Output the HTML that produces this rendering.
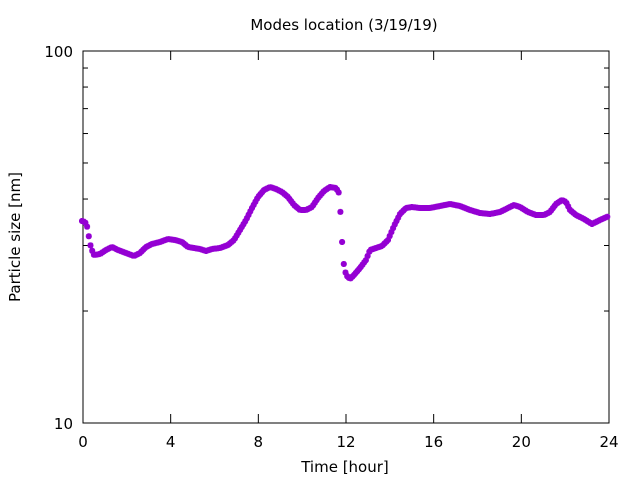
<!DOCTYPE html>
<html><head><style>body{margin:0;background:#fff}svg{display:block}text{font-family:"DejaVu Sans",sans-serif;font-size:15px;fill:#000}</style></head>
<body>
<svg id="s" width="640" height="480" xmlns="http://www.w3.org/2000/svg">
<rect x="83" y="51" width="526" height="372" fill="none" stroke="#000" stroke-width="1"/>
<text x="344" y="30" text-anchor="middle">Modes location (3/19/19)</text>
<text x="345" y="472" text-anchor="middle">Time [hour]</text>
<text transform="translate(20,237) rotate(-90)" text-anchor="middle">Particle size [nm]</text>
<text x="73" y="57" text-anchor="end">100</text>
<text x="73" y="429" text-anchor="end">10</text>
<g id="ticks" stroke="#000" stroke-width="1"></g>
<g id="xl"></g>
<g id="pts" stroke="#9400d3" stroke-width="2" fill="none"></g>
</svg>
<script>
var NS="http://www.w3.org/2000/svg",t=document.getElementById("ticks"),xl=document.getElementById("xl"),p=document.getElementById("pts");
function ln(x1,y1,x2,y2){var l=document.createElementNS(NS,"line");l.setAttribute("x1",x1);l.setAttribute("y1",y1);l.setAttribute("x2",x2);l.setAttribute("y2",y2);t.appendChild(l);}
for(var i=0;i<=6;i++){var x=83+i*526/6;ln(x,423,x,414);ln(x,51,x,60);var tx=document.createElementNS(NS,"text");tx.setAttribute("x",x);tx.setAttribute("y",447);tx.setAttribute("text-anchor","middle");tx.textContent=i*4;xl.appendChild(tx);}
for(var v=10;v<=100;v+=10){var y=423-372*Math.log10(v/10);var L=(v==10||v==100)?9:5;ln(83,y,83+L,y);ln(609,y,609-L,y);}
var k=[[82,221],[85,222],[87,226],[88,232],[91,248],[94,255],[100,254],[106,250],[112,247],[118,250],[126,253],[134,256],[140,253],[146,247],[152,244],[160,242],[168,239],[175,240],[182,242],[188,247],[194,248],[200,249],[206,251],[212,249],[220,248],[228,245],[234,240],[240,230],[246,220],[252,208],[258,197],[264,190],[270,187],[276,189],[282,192],[288,197],[294,205],[300,210],[306,210],[312,207],[318,198],[324,191],[330,187],[336,188],[339,193],[341,220],[343,260],[346,275],[350,279],[354,275],[360,268],[366,260],[370,250],[376,248],[382,246],[388,240],[394,226],[400,214],[406,208],[412,207],[420,208],[430,208],[440,206],[450,204],[460,206],[470,210],[480,213],[490,214],[500,212],[508,208],[514,205],[520,207],[528,212],[536,215],[544,215],[550,212],[556,204],[562,200],[566,202],[570,210],[576,215],[584,219],[592,224],[600,220],[609,216]];
var d="";
for(var x=82;x<=609;x+=1.7){var j=0;while(j<k.length-2&&k[j+1][0]<x)j++;var a=k[j],b=k[j+1],f=(x-a[0])/(b[0]-a[0]);var y=a[1]+f*(b[1]-a[1]);
d+="M"+(x-3)+" "+y+"h6M"+x+" "+(y-3)+"v6M"+(x-2.2)+" "+(y-2.2)+"l4.4 4.4M"+(x-2.2)+" "+(y+2.2)+"l4.4 -4.4";}
var pa=document.createElementNS(NS,"path");pa.setAttribute("d",d);p.appendChild(pa);
</script>
</body></html>
